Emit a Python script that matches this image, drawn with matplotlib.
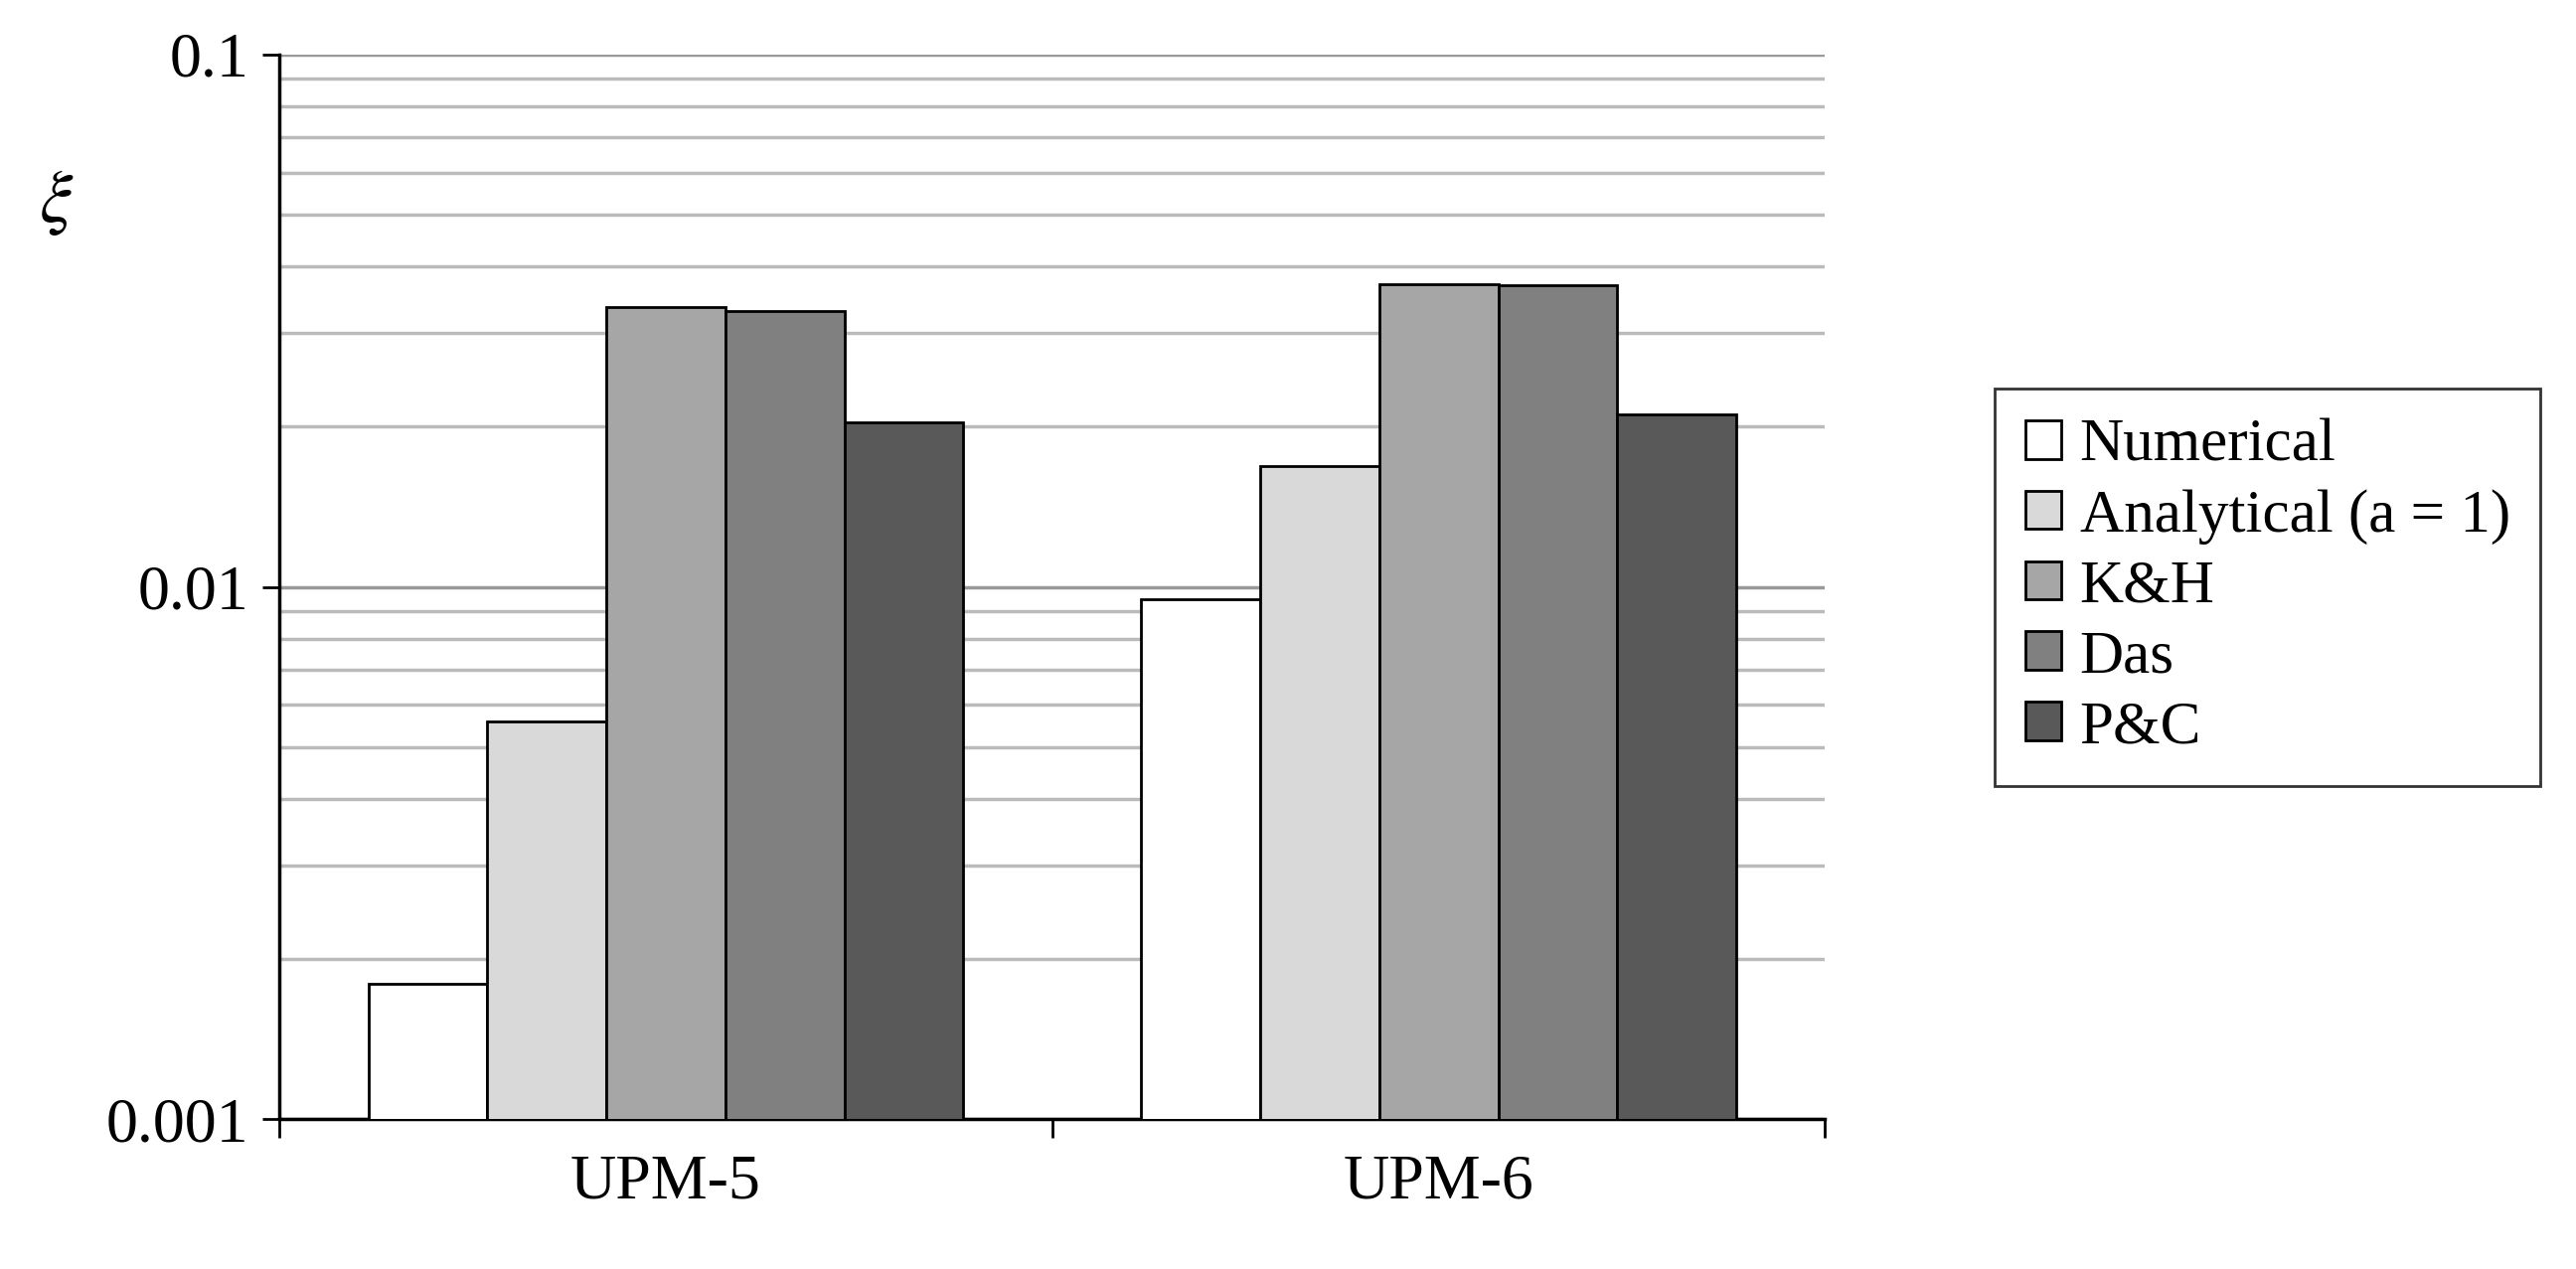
import matplotlib
matplotlib.use("Agg")
import matplotlib.pyplot as plt
import numpy as np
from matplotlib.ticker import LogLocator, NullFormatter, FixedLocator

plt.rcParams['font.family'] = ['Liberation Serif', 'DejaVu Serif']
plt.rcParams['mathtext.fontset'] = 'stix'

categories = ['UPM-5', 'UPM-6']
series = ['Numerical', 'Analytical (a = 1)', 'K&H', 'Das', 'P&C']
values = {
    'Numerical': [0.0018, 0.0095],
    'Analytical (a = 1)': [0.0056, 0.0169],
    'K&H': [0.0335, 0.037],
    'Das': [0.033, 0.0368],
    'P&C': [0.0204, 0.0211],
}
colors = ['#ffffff', '#d9d9d9', '#a6a6a6', '#808080', '#595959']

fig = plt.figure(figsize=(25.92, 12.77), dpi=100)
ax = fig.add_axes([0.1085, 0.118, 0.6, 0.839])

x = np.arange(len(categories))
w = 0.154
for i, s in enumerate(series):
    ax.bar(x + (i - 2) * w, values[s], width=w, color=colors[i], edgecolor='black',
           linewidth=2, label=s, zorder=3)

ax.set_yscale('log')
ax.set_ylim(0.001, 0.1)
ax.set_xlim(-0.5, 1.5)
ax.yaxis.set_major_locator(FixedLocator([0.001, 0.01, 0.1]))
ax.set_yticklabels(['0.001', '0.01', '0.1'])
ax.yaxis.set_minor_locator(LogLocator(base=10, subs=np.arange(2, 10)))
ax.yaxis.set_minor_formatter(NullFormatter())
ax.grid(True, which='major', axis='y', color='#999999', linewidth=2.5, zorder=0)
ax.grid(True, which='minor', axis='y', color='#bbbbbb', linewidth=2.5, zorder=0)
ax.tick_params(axis='y', which='minor', length=0)
ax.tick_params(axis='y', which='major', length=12, width=2, labelsize=46, pad=10)

ax.set_xticks(x)
ax.set_xticklabels(categories)
ax.set_xticks([-0.5, 0.5, 1.5], minor=True)
ax.tick_params(axis='x', which='major', length=0, labelsize=46, pad=25)
ax.tick_params(axis='x', which='minor', length=14, width=2)
for sp in ['top', 'right']:
    ax.spines[sp].set_visible(False)
for sp in ['left', 'bottom']:
    ax.spines[sp].set_linewidth(2.5)

fig.text(0.022, 0.84, r'$\xi$', fontsize=54, ha='center', va='center')

leg = ax.legend(loc='center left', bbox_to_anchor=(1.09, 0.5), fontsize=44, frameon=True,
                fancybox=False, edgecolor='black', handlelength=0.6, handleheight=0.6,
                handletextpad=0.3, borderpad=0.5, labelspacing=0.25)
leg.get_frame().set_linewidth(2)

fig.savefig('out.png', dpi=100)
